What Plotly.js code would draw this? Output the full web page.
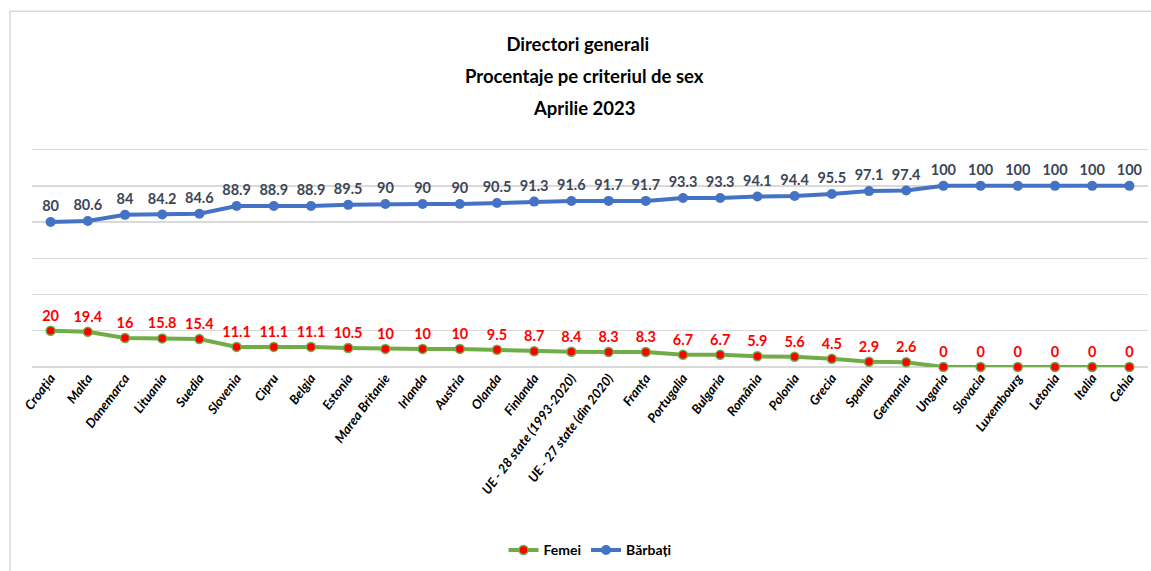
<!DOCTYPE html>
<html>
<head>
<meta charset="utf-8">
<script src="https://cdn.plot.ly/plotly-3.0.1.min.js"></script>
<style>
html,body{margin:0;padding:0;background:#fff;}
#chart{width:1151px;height:571px;}
</style>
</head>
<body>
<div id="chart"></div>
<script>
const categories = ["Croația","Malta","Danemarca","Lituania","Suedia","Slovenia","Cipru","Belgia","Estonia","Marea Britanie","Irlanda","Austria","Olanda","Finlanda","UE - 28 state (1993-2020)","UE - 27 state (din 2020)","Franța","Portugalia","Bulgaria","România","Polonia","Grecia","Spania","Germania","Ungaria","Slovacia","Luxembourg","Letonia","Italia","Cehia"];
const femei = [20,19.4,16,15.8,15.4,11.1,11.1,11.1,10.5,10,10,10,9.5,8.7,8.4,8.3,8.3,6.7,6.7,5.9,5.6,4.5,2.9,2.6,0,0,0,0,0,0];
const barbati = [80,80.6,84,84.2,84.6,88.9,88.9,88.9,89.5,90,90,90,90.5,91.3,91.6,91.7,91.7,93.3,93.3,94.1,94.4,95.5,97.1,97.4,100,100,100,100,100,100];
const titleLines = ["Directori generali", "Procentaje pe criteriul de sex", "Aprilie 2023"];

const FONT = "Lato, 'Liberation Sans', sans-serif";
const W = 1151, H = 571;

const traces = [
  {
    x: categories, y: femei, name: "Femei", type: "scatter", mode: "lines+markers+text",
    line: {color: "#70AD47", width: 4},
    marker: {color: "#FF0000", size: 9, line: {color: "#70AD47", width: 1.5}},
    text: femei.map(String), textposition: "top center",
    textfont: {family: FONT, size: 14.5, color: "#FF0000", weight: "bold"},
    cliponaxis: false, hoverinfo: "x+y"
  },
  {
    x: categories, y: barbati, name: "Bărbați", type: "scatter", mode: "lines+markers+text",
    line: {color: "#4472C4", width: 4},
    marker: {color: "#4472C4", size: 10},
    text: barbati.map(String), textposition: "top center",
    textfont: {family: FONT, size: 14.5, color: "#3B4656", weight: "bold"},
    cliponaxis: false, hoverinfo: "x+y"
  }
];

const titleFont = {family: FONT, size: 18.5, color: "#000", weight: "bold"};

const layout = {
  width: W, height: H,
  margin: {l: 32, r: 3, t: 146.4, b: 204},
  paper_bgcolor: "#fff", plot_bgcolor: "#fff",
  font: {family: FONT},
  title: {
    text: titleLines[0],
    x: 0.502, xanchor: "center", y: 1 - 45 / H, yanchor: "middle",
    font: titleFont
  },
  annotations: [
    {text: titleLines[1], xref: "paper", yref: "paper", x: 0.495, xanchor: "center",
     y: (H - 204 - 77) / (H - 204 - 146.4), yanchor: "middle", showarrow: false, font: titleFont},
    {text: titleLines[2], xref: "paper", yref: "paper", x: 0.495, xanchor: "center",
     y: (H - 204 - 108) / (H - 204 - 146.4), yanchor: "middle", showarrow: false, font: titleFont}
  ],
  xaxis: {
    type: "category", range: [-0.5, categories.length - 0.5], tickangle: -53,
    showgrid: false, zeroline: false, showline: false, ticks: "", automargin: false,
    tickfont: {family: FONT, size: 13, color: "#000", weight: "bold", style: "italic"}
  },
  yaxis: {
    range: [0, 122], tickvals: [0, 20, 40, 60, 80, 100, 120], showticklabels: false, showgrid: true,
    gridcolor: "#D9D9D9", gridwidth: 1.3, zeroline: true, zerolinecolor: "#D9D9D9", zerolinewidth: 1.3,
    showline: false, ticks: "", fixedrange: true, automargin: false
  },
  showlegend: true,
  legend: {
    orientation: "h", x: 0.5, xanchor: "center", y: (367 - 550) / (H - 204 - 146.4), yanchor: "middle",
    font: {family: FONT, size: 14, color: "#000", weight: "bold"},
    traceorder: "normal"
  },
  shapes: [
    {type: "rect", xref: "paper", yref: "paper",
     x0: (10 - 32) / 1116, x1: 1.1, y0: -1.0, y1: (367 - 12) / (H - 204 - 146.4),
     line: {color: "#D9D9D9", width: 1.5}, fillcolor: "rgba(0,0,0,0)", layer: "below"}
  ]
};

Plotly.newPlot("chart", traces, layout, {displayModeBar: false, staticPlot: true});
</script>
</body>
</html>
